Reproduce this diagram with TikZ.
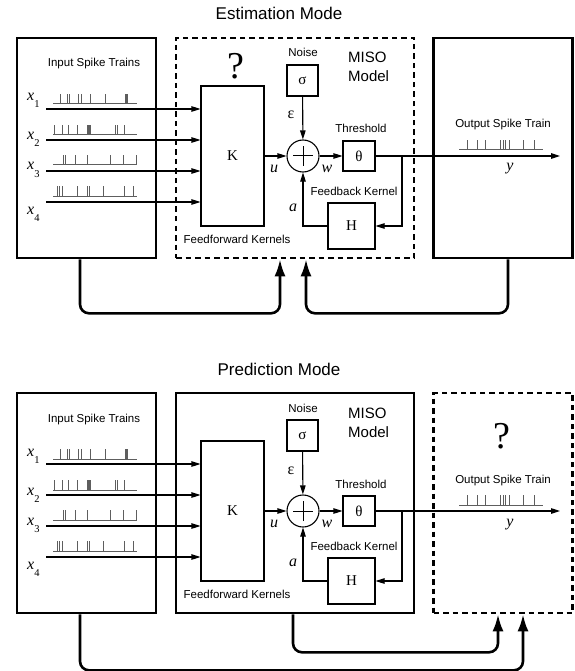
\documentclass[tikz,border=0pt]{standalone}
\usepackage{fontspec}
\setmainfont{Liberation Sans}
\newfontfamily\tms{Liberation Serif}
\usetikzlibrary{arrows.meta,positioning}
\definecolor{spikegray}{HTML}{5E5E5E}
\tikzset{bigbox/.style={draw,line width=2.6pt,minimum width=139pt,minimum height=220pt},misobox/.style={bigbox,minimum width=238pt},dashbox/.style={dash pattern=on 5.5pt off 4pt},blk/.style={draw,line width=1.1pt,inner sep=0pt,font=\tms\fontsize{15}{15}\selectfont},lbl/.style={font=\fontsize{11.5}{12}\selectfont,anchor=base,inner sep=0pt},var/.style={font=\tms\itshape\fontsize{16}{16}\selectfont,anchor=base,inner sep=0pt},arr/.style={-{Triangle[length=9pt,width=5.5pt]},line width=1.1pt},feed/.style={-{Latex[length=17pt,width=11pt]},line width=2.6pt,rounded corners=9pt},train/.style={spikegray,line width=1pt}}
\newcommand\spiketrain[4]{\draw[train] (#1,#3) -- (#2,#3); \foreach \s in {#4} \draw[train] (\s,#3) -- ++(0,-10);}
\newcommand\xsub[1]{x\raisebox{-7pt}{\upshape\fontsize{10.5}{10.5}\selectfont#1}}

\begin{document}
\begin{tikzpicture}[x=1pt,y=-1pt]
\useasboundingbox (0,0) rectangle (574,671);
% outer boxes of the two modes
\node[misobox,dashbox] (misoe) at (295,148) {};
\node[bigbox] (oute) at (503,148) {};
\node[misobox] (misop) at (295,503) {};
\node[bigbox,dashbox] (outp) at (503,503) {};
\foreach \p/\yy/\ttl in {e/0/Estimation Mode,p/355/Prediction Mode}{
\begin{scope}[yshift=-\yy pt]
\node[lbl,font=\fontsize{17}{17}\selectfont] (title\p) at (279,20) {\ttl};
\node[bigbox] (in\p) at (86.5,148) {};
\node[lbl] (inlbl\p) at (94,67) {Input Spike Trains};
% inputs
\spiketrain{53}{137}{104}{60,67,69,78,81,90,105,125,126,127}
\spiketrain{53}{137}{135}{54,62,68,77,87,88,89,90,115,117,124}
\spiketrain{53}{137}{165}{63,65,75,87,110,123,136}
\spiketrain{53}{137}{196}{57,59,62,77,87,89,103,124,133}
\node[var,anchor=base west] (x1\p) at (27,101) {\xsub{1}};
\node[var,anchor=base west] (x2\p) at (27,140) {\xsub{2}};
\node[var,anchor=base west] (x3\p) at (27,170) {\xsub{3}};
\node[var,anchor=base west] (x4\p) at (27,214) {\xsub{4}};
% model
\node[blk,minimum width=63pt,minimum height=140pt] (K\p) at (232.5,156) {K};
\node[lbl] (ffk\p) at (237,243) {Feedforward Kernels};
\foreach \i/\yl in {1/109,2/140,3/171,4/202}{\coordinate (s\i\p) at (46,\yl); \draw[arr] (s\i\p) -- (s\i\p -| K\p.west);}
\node[blk,minimum size=31pt] (sig\p) at (302.5,80.5) {σ};
\node[lbl] (noise\p) at (303,57) {Noise};
\node[lbl,anchor=base west,font=\fontsize{15}{15}\selectfont] (mlbl\p) at (348,63) {MISO};
\node[lbl,anchor=base west,font=\fontsize{15}{15}\selectfont] (mlbltwo\p) at (348,82) {Model};
\node[draw,circle,line width=1.1pt,minimum size=32pt,inner sep=0pt] (sum\p) at (303,156) {};
\draw[line width=1pt] ([xshift=-10pt]sum\p.center) -- ([xshift=10pt]sum\p.center);
\draw[line width=1pt] ([yshift=-10pt]sum\p.center) -- ([yshift=10pt]sum\p.center);
\node[blk,minimum width=32pt,minimum height=30pt] (th\p) at (359,156) {θ};
\node[lbl] (thr\p) at (361,133) {Threshold};
\node[blk,minimum width=47pt,minimum height=46pt] (H\p) at (351.5,226) {H};
\node[lbl] (fbk\p) at (354,195) {Feedback Kernel};
\node[var,font=\tms\fontsize{16}{16}\selectfont] (eps\p) at (291,119) {ε};
\node[var] (u\p) at (274,172) {u};
\node[var] (w\p) at (327,172) {w};
\node[var] (a\p) at (293,211) {a};
\coordinate (br\p) at (402,156);
\coordinate (yend\p) at (560,156);
\draw[arr] (K\p) -- (sum\p);
\draw[arr] (sig\p) -- (sum\p);
\draw[arr] (sum\p) -- (th\p);
\draw[arr] (th\p) -- (yend\p);
\draw[arr] (br\p) |- (H\p);
\draw[arr] (H\p) -| (sum\p);
% output
\node[lbl] (outlbl\p) at (503,128) {Output Spike Train};
\spiketrain{459}{543}{150}{467,477,485,500,503,505,509,523,534}
\node[var] (y\p) at (510,171) {y};
\end{scope}}
\node[anchor=base,inner sep=0pt,font=\tms\fontsize{38}{38}\selectfont] (qe) at (236,79) {?};
\node[anchor=base,inner sep=0pt,font=\tms\fontsize{38}{38}\selectfont] (qp) at (502,448) {?};
% feedback loops between the boxes
\draw[feed] ([xshift=-6.5pt]ine.south) -- ++(0,54) -| ([xshift=-15pt]misoe.south);
\draw[feed] ([xshift=5pt]oute.south) -- ++(0,54) -| ([xshift=11pt]misoe.south);
\draw[feed] ([xshift=-2pt]misop.south) -- ++(0,38) -| ([xshift=-5pt]outp.south);
\draw[feed] ([xshift=-6.5pt]inp.south) -- ++(0,56) -| ([xshift=20pt]outp.south);
\end{tikzpicture}
\end{document}
